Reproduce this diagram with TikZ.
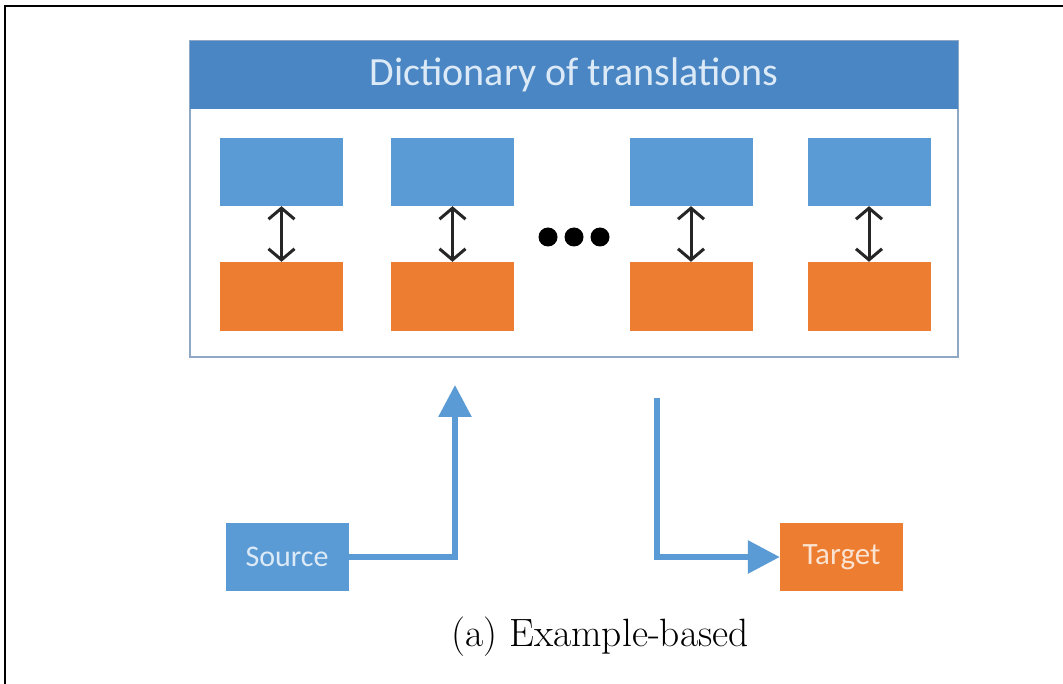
\documentclass[tikz,border=0pt]{standalone}
\usepackage{fontspec}
\newfontfamily\carl{Carlito}
\usetikzlibrary{arrows.meta}
\definecolor{hdrblue}{HTML}{4A86C3}
\definecolor{boxblue}{HTML}{5B9BD5}
\definecolor{boxorange}{HTML}{ED7D31}
\definecolor{frameline}{HTML}{8FA8C6}
\definecolor{lighttext}{HTML}{DCEAF7}
\definecolor{lightorange}{HTML}{FBE3D2}
\tikzset{
  bluebox/.style={draw=none,fill=boxblue,minimum width=123pt,minimum height=68pt,inner sep=0pt},
  orangebox/.style={draw=none,fill=boxorange,minimum width=123pt,minimum height=69pt,inner sep=0pt},
  pairarrow/.style={line width=3pt,black!85,{Straight Barb[length=11pt,width=26pt]}-{Straight Barb[length=11pt,width=26pt]}},
  flowarrow/.style={line width=6pt,boxblue,-{Triangle[length=32pt,width=32pt]}},
  dot/.style={circle,fill=black,minimum size=19pt,inner sep=0pt},
}
\begin{document}
\begin{tikzpicture}[x=1pt,y=-1pt]
\useasboundingbox (0,0) rectangle (1063,684);
\fill[white] (0,0) rectangle (1063,684);
% outer frame (partial)
\draw[line width=2.2pt,black] (5,684) -- (5,6) -- (1063,6);
% dictionary box
\node[draw=frameline,line width=1.5pt,fill=white,minimum width=768pt,minimum height=316pt,inner sep=0pt] (dict) at (574,199) {};
\node[fill=hdrblue,minimum width=768pt,minimum height=68pt,inner sep=0pt,text=lighttext,font=\carl\fontsize{40}{44}\selectfont] (hdr) at (574,75) {Dictionary of translations};
% pairs
\node[bluebox] (b1) at (281.5,172) {};
\node[bluebox] (b2) at (452.5,172) {};
\node[bluebox] (b3) at (691,172) {};
\node[bluebox] (b4) at (869,172) {};
\node[orangebox] (o1) at (281.5,296.5) {};
\node[orangebox] (o2) at (452.5,296.5) {};
\node[orangebox] (o3) at (691,296.5) {};
\node[orangebox] (o4) at (869,296.5) {};
\foreach \i in {1,2,3,4}{
  \draw[pairarrow] (b\i.south) -- (o\i.north);
}
\node[dot] (d1) at (548,237) {};
\node[dot] (d2) at (574,237) {};
\node[dot] (d3) at (600,237) {};
% source / target
\node[fill=boxblue,minimum width=123pt,minimum height=68pt,inner sep=0pt,text=lighttext,font=\carl\fontsize{30}{34}\selectfont] (src) at (287,557) {Source};
\node[fill=boxorange,minimum width=123pt,minimum height=68pt,inner sep=0pt,text=lightorange,font=\carl\fontsize{31}{34}\selectfont] (tgt) at (841.5,557) {Target};
\coordinate (up) at (455,385);
\coordinate (down) at (657,398);
\draw[flowarrow] (src.east) -| (up);
\draw[flowarrow] (down) |- (tgt.west);
% caption
\node[font=\fontsize{39.5}{44}\selectfont] (cap) at (600,637) {(a) Example-based};
\end{tikzpicture}
\end{document}
